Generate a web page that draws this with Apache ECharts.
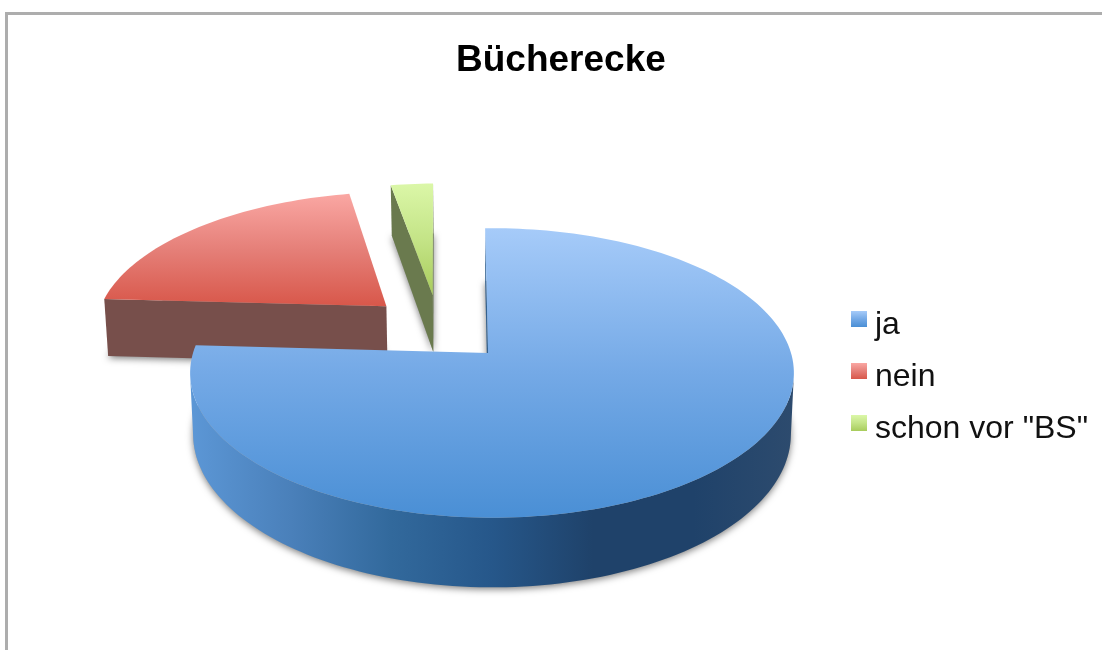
<!DOCTYPE html>
<html>
<head>
<meta charset="utf-8">
<style>
  html, body { margin: 0; padding: 0; background: #fff; }
  /* the reference is a soft upscaled screenshot */
  #chart { width: 1102px; height: 650px; filter: blur(0.5px); }
</style>
<script src="https://cdn.jsdelivr.net/npm/echarts@6/dist/echarts.min.js"></script>
</head>
<body>
<div id="chart"></div>
<script>
const categories = ['ja', 'nein', 'schon vor "BS"']
const values = [76.3, 21, 2.7]

const total = values.reduce((a, b) => a + b, 0)
const grad = (x2, y2, stops) => new echarts.graphic.LinearGradient(0, 0, x2, y2,
  stops.map((c, i) => ({ offset: i / (stops.length - 1), color: c })))

// per slice look: top face colours, front wall, side wall, how far it is pulled out
const looks = [
  { top: ['#a6cbf9', '#74a9e6', '#4a8fd5'], side: '#33618f', pull: [0, 0], notch: -0.013,
    arc: ['#5c97d6', '#4a80ba', '#32699c', '#26578a', '#1f426a', '#1f426a', '#2d4b6e'] },
  { top: ['#faa7a3', '#e57f78', '#d8574a'], side: '#774f4b', pull: [-0.37, -0.345], notch: 0 },
  { top: ['#dbf7a8', '#c4e487', '#a8cc5c'], side: '#6a7a4e', pull: [-0.21, -0.43], notch: 0 }
]

// pie geometry, screen px
const CX = 492, CY = 353, RX = 299, RY = 142, DEPTH = 60
const PERSP = 0.138, TAPER = 0.01, FIRST_DEG = -1.5

function project(X, Y, Z) {
  const s = 1 / (1 - PERSP * Y)
  return [CX + RX * X * s * (1 - TAPER * Z), CY + RY * Y * s + DEPTH * Z * s]
}

function area(pts) {
  let sum = 0
  pts.forEach((p, i) => {
    const q = pts[(i + 1) % pts.length]
    sum += p[0] * q[1] - q[0] * p[1]
  })
  return sum / 2
}

function renderSlice(params, api) {
  const i = params.seriesIndex
  const look = looks[i]
  const startDeg = FIRST_DEG + values.slice(0, i).reduce((a, b) => a + b, 0) / total * 360
  const sweep = api.value(0) / total * 360
  const rim = (deg, Z) => {
    const r = deg * Math.PI / 180
    return project(look.pull[0] + Math.sin(r), look.pull[1] - Math.cos(r), Z)
  }
  const apex = Z => project(look.pull[0] + look.notch, look.pull[1], Z)

  const degs = []
  const steps = Math.max(4, Math.ceil(sweep / 1.5))
  for (let k = 0; k <= steps; k++) degs.push(startDeg + sweep * k / steps)

  const outline = Z => [apex(Z)].concat(degs.map(d => rim(d, Z)))
  const children = []

  // soft shadow comes from the bottom face
  children.push({
    type: 'polygon',
    shape: { points: outline(1) },
    style: { fill: '#a5a5a5', shadowBlur: 7, shadowColor: 'rgba(0,0,0,0.5)', shadowOffsetY: 2 }
  })

  // radial walls, only when they face us
  ;[[degs[0], false], [degs[degs.length - 1], true]].forEach(([d, flip]) => {
    let quad = [apex(0), rim(d, 0), rim(d, 1), apex(1)]
    if (flip) quad = [rim(d, 0), apex(0), apex(1), rim(d, 1)]
    if (area(quad) < 0) {
      children.push({ type: 'polygon', shape: { points: quad }, style: { fill: look.side } })
    }
  })

  // outer wall, the part that faces us
  const front = degs.filter((d, k) => k < steps &&
    area([rim(d, 0), rim(degs[k + 1], 0), rim(degs[k + 1], 1), rim(d, 1)]) < 0)
  if (front.length && look.arc) {
    front.push(front[front.length - 1] + sweep / steps)
    const wall = front.map(d => rim(d, 0)).concat(front.slice().reverse().map(d => rim(d, 1)))
    children.push({
      type: 'polygon',
      shape: { points: wall },
      // angles run clockwise so the wall goes right to left
      style: { fill: grad(1, 0, look.arc) }
    })
  }

  children.push({
    type: 'polygon',
    shape: { points: outline(0) },
    style: { fill: grad(0, 1, look.top) }
  })

  return { type: 'group', children }
}

const chart = echarts.init(document.getElementById('chart'))
chart.setOption({
  animation: false,
  backgroundColor: '#fff',
  title: {
    text: 'Bücherecke',
    left: 451,
    top: 37,
    textStyle: { fontFamily: 'Liberation Sans', fontSize: 37, fontWeight: 'bold', color: '#000' }
  },
  legend: {
    orient: 'vertical',
    left: 846,
    top: 304,
    itemWidth: 16,
    itemHeight: 16,
    itemGap: 20,
    icon: 'rect',
    selectedMode: false,
    // labels sit a little lower than their swatches
    formatter: name => `{t|${name}}`,
    textStyle: {
      rich: {
        t: { fontFamily: 'Liberation Sans', fontSize: 32, color: '#111', padding: [12, 0, 0, 3] }
      }
    },
    data: categories.map((name, i) => ({
      name,
      itemStyle: { color: grad(0, 1, looks[i].top) }
    }))
  },
  graphic: [{
    type: 'polyline',
    silent: true,
    shape: { points: [[6.5, 650], [6.5, 13.5], [1102, 13.5]] },
    style: { stroke: '#adadad', lineWidth: 3, fill: null }
  }],
  series: categories.map((name, i) => ({
    name,
    type: 'custom',
    coordinateSystem: 'none',
    silent: true,
    z: 2 + categories.length - i,
    itemStyle: { color: looks[i].top[1] },
    renderItem: renderSlice,
    data: [[values[i]]]
  }))
})
</script>
</body>
</html>
